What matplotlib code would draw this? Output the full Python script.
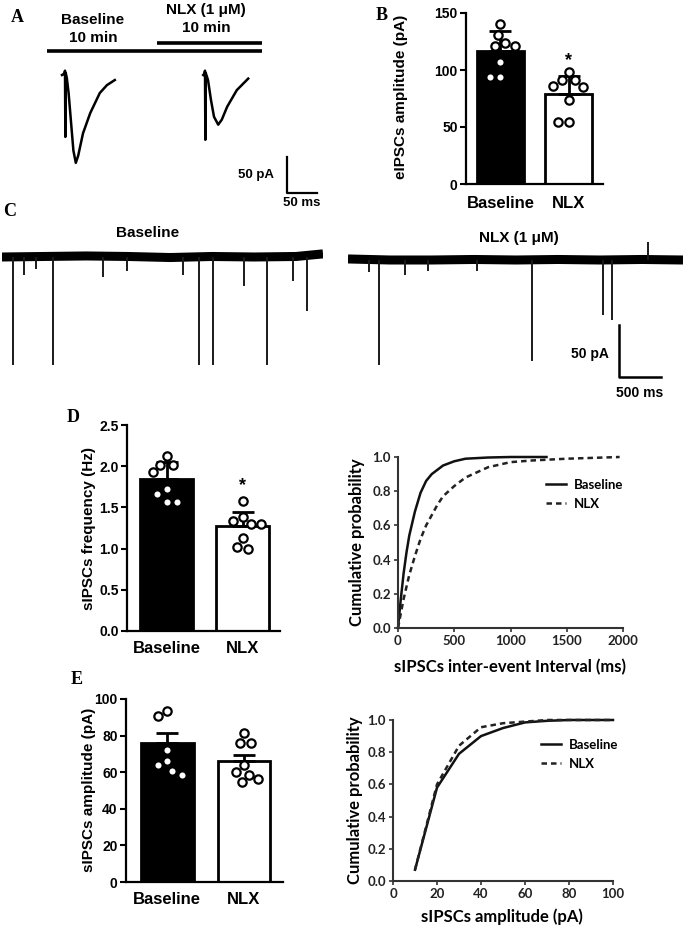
import matplotlib
matplotlib.use('Agg')
import matplotlib.pyplot as plt
import numpy as np

plt.rcParams['font.family'] = ['Liberation Sans', 'DejaVu Sans']
plt.rcParams['font.weight'] = 'bold'
plt.rcParams['axes.labelweight'] = 'bold'

# ---------------- data ----------------
groups = ['Baseline', 'NLX']

# B: eIPSC amplitude (pA)
eipsc_mean = [117, 79]
eipsc_err = [17, 16]
eipsc_baseline = [140, 131, 124, 121, 121, 107, 94, 94]
eipsc_nlx = [98, 91, 91, 86, 85, 74, 54, 54]

# D: sIPSC frequency (Hz)
freq_mean = [1.845, 1.27]
freq_err = [0.21, 0.18]
freq_baseline = [2.12, 2.02, 2.02, 1.93, 1.72, 1.66, 1.56, 1.56]
freq_nlx = [1.58, 1.38, 1.34, 1.30, 1.30, 1.13, 1.00, 1.02]

# E: sIPSC amplitude (pA)
amp_mean = [76, 66]
amp_err = [5.6, 3.6]
amp_baseline = [93.3, 90.9, 72.3, 66.0, 63.8, 60.8, 58.7]
amp_nlx = [81.4, 76.0, 76.0, 63.8, 60.3, 58.7, 56.3, 54.5]

# D: cumulative inter-event interval
iei_base_ms = [0, 25, 50, 75, 100, 150, 200, 250, 300, 400, 500, 600, 800, 1000, 1320]
iei_base_p = [0.0, 0.17, 0.32, 0.44, 0.54, 0.68, 0.79, 0.86, 0.90, 0.95, 0.975, 0.99, 0.997, 1.0, 1.0]
iei_nlx_ms = [0, 50, 100, 150, 200, 250, 300, 350, 400, 500, 600, 700, 800, 1000, 1200, 1500, 1970]
iei_nlx_p = [0.0, 0.17, 0.31, 0.42, 0.52, 0.60, 0.66, 0.72, 0.77, 0.83, 0.88, 0.91, 0.94, 0.97, 0.98, 0.99, 1.0]

# E: cumulative amplitude
amp_bins = [10, 20, 30, 40, 50, 60, 70, 80, 90, 100]
amp_cdf_base = [0.07, 0.58, 0.79, 0.90, 0.95, 0.985, 0.995, 1.0, 1.0, 1.0]
amp_cdf_nlx = [0.07, 0.60, 0.84, 0.955, 0.98, 0.99, 1.0, 1.0, 1.0, 1.0]

# A: evoked traces (ms from stimulus, pA from holding level)
evoked_base_t = [-5, -1, 0, 0.6, 1.2, 3, 6, 10, 14, 18, 22, 30, 42, 58, 70, 83]
evoked_base_i = [0, 2, 6, -86, 3, -4, -25, -65, -105, -122, -112, -81, -53, -25, -14, -7]
evoked_nlx_t = [-3, -1, 0, 0.6, 1.2, 5, 10, 15, 22, 28, 37, 53, 72]
evoked_nlx_i = [0, 2, 6, -90, 3, -7, -35, -58, -69, -62, -44, -21, -5]

# C: spontaneous events (time ms, amplitude pA)
spont_base_ms = [135, 262, 405, 611, 1206, 1484, 2159, 2349, 2516, 2881, 3151, 3468, 3635]
spont_base_pA = [104, 17, 12, 104, 19, 13, 17, 104, 104, 28, 104, 23, 52]
spont_nlx_ms = [250, 373, 679, 956, 1532, 2187, 3040, 3139, 3575]
spont_nlx_pA = [12, 101, 14, 11, 11, 97, 53, 58, -17]
drift_base_ms = [0, 500, 1000, 1500, 2000, 2500, 3000, 3500, 3820]
drift_base_pA = [0, 0.5, 1, 0.5, -0.5, 0.5, 0, 0.5, 3]
drift_nlx_ms = [0, 500, 1000, 1500, 2000, 2500, 3000, 3500, 3988]
drift_nlx_pA = [1, 0, 0, 0.5, 0, 0.5, 0, 0.5, 0]

# ---------------- layout helpers ----------------
W, H = 685, 927
fig = plt.figure(figsize=(W / 100, H / 100), dpi=100)


def add_ax(x0, y0, x1, y1, **kw):
    return fig.add_axes([x0 / W, 1 - y1 / H, (x1 - x0) / W, (y1 - y0) / H], **kw)


def ftext(x, y, s, **kw):
    kw.setdefault('ha', 'center')
    kw.setdefault('va', 'center')
    fig.text(x / W, 1 - y / H, s, **kw)


def panel_label(x, y, s):
    fig.text(x / W, 1 - y / H, s, family='Liberation Serif', weight='bold',
             fontsize=13, ha='left', va='center')


def swarm(ax, xc, vals, d):
    T = ax.transData
    inv = T.inverted()
    placed = []
    res = [None] * len(vals)
    order = sorted(range(len(vals)), key=lambda i: -vals[i])
    for i in order:
        px, py = T.transform((xc, vals[i]))
        forb = []
        for (qx, qy) in placed:
            dy = abs(qy - py)
            if dy < d:
                h = np.sqrt(d * d - dy * dy)
                forb.append((qx - h, qx + h))
        cands = [px] + [a for a, b in forb] + [b for a, b in forb]
        cands.sort(key=lambda c: abs(c - px))
        chosen = px
        for c in cands:
            if all(not (a + 1e-6 < c < b - 1e-6) for a, b in forb):
                chosen = c
                break
        placed.append((chosen, py))
        res[i] = inv.transform((chosen, py))[0]
    return res


def bar_panel(box, xlim, ylim, yticks, ytl, means, errs, pts_list, star=None, xpad=7):
    ax = add_ax(*box)
    ax.set_xlim(*xlim)
    ax.set_ylim(*ylim)
    xs = [0, 1]
    ax.bar(xs, means, width=0.69, color=['black', 'white'], edgecolor='black',
           linewidth=2, zorder=2)
    ax.errorbar(xs, means, yerr=[[0, 0], errs], fmt='none', ecolor='black',
                elinewidth=2, capsize=8, capthick=2, zorder=3)
    for xc, pts in zip(xs, pts_list):
        offs = swarm(ax, xc, pts, 10.5)
        ax.plot(offs, pts, 'o', ms=6, mfc='white', mec='black', mew=1.6,
                zorder=4, clip_on=False)
    if star is not None:
        ax.text(1, star, '*', ha='center', va='center', fontsize=13, weight='bold')
    for s in ['top', 'right']:
        ax.spines[s].set_visible(False)
    for s in ['left', 'bottom']:
        ax.spines[s].set_linewidth(1.6)
    ax.set_yticks(yticks)
    ax.set_yticklabels(ytl, fontsize=10, weight='bold')
    ax.set_xticks(xs)
    ax.set_xticklabels(groups, fontsize=12, weight='bold')
    ax.tick_params(axis='y', length=4, width=1.5, pad=2)
    ax.tick_params(axis='x', length=0, pad=xpad)
    return ax


CAL = ['Lato', 'DejaVu Sans']


def cum_panel(box, xlim, xticks, ylabel_xy, xlabel, xlabel_xy, xs_b, ys_b, xs_n, ys_n, leg_xy):
    ax = add_ax(*box)
    ax.set_xlim(*xlim)
    ax.set_ylim(0, 1.0)
    ax.plot(xs_b, ys_b, '-', color='#111111', lw=1.8, label='Baseline', clip_on=False)
    ax.plot(xs_n, ys_n, '--', color='#222222', lw=1.8, dashes=(2.2, 1.6), label='NLX',
            clip_on=False)
    for s in ['top', 'right']:
        ax.spines[s].set_visible(False)
    for s in ['left', 'bottom']:
        ax.spines[s].set_linewidth(1.5)
        ax.spines[s].set_color('#333333')
    ax.set_xticks(xticks)
    ax.set_yticks([0, 0.2, 0.4, 0.6, 0.8, 1.0])
    ax.set_yticklabels(['0.0', '0.2', '0.4', '0.6', '0.8', '1.0'])
    for t in ax.get_xticklabels() + ax.get_yticklabels():
        t.set_fontfamily(CAL)
        t.set_fontweight('bold')
        t.set_fontsize(9.5)
        t.set_color('#222222')
    ax.tick_params(length=3, width=1.2, color='#333333', pad=2)
    ftext(ylabel_xy[0], ylabel_xy[1], 'Cumulative probability', rotation=90,
          family=CAL, weight='bold', fontsize=12)
    ftext(xlabel_xy[0], xlabel_xy[1], xlabel, family=CAL, weight='bold', fontsize=12)
    ax.legend(loc='upper left', bbox_to_anchor=(leg_xy[0] / W, 1 - leg_xy[1] / H),
              bbox_transform=fig.transFigure, frameon=False, borderaxespad=0,
              borderpad=0, handlelength=1.5, handletextpad=0.6, labelspacing=0.5,
              prop={'family': CAL, 'weight': 'bold', 'size': 9.5})
    return ax


# ---------------- Panel A ----------------
axA = add_ax(0, 0, 330, 200)
axA.set_xlim(0, 330 / 0.6)
axA.set_ylim(-200 / 0.72, 0)
axA.axis('off')
base_origin = (65 / 0.6, -75 / 0.72)
nlx_origin = (205 / 0.6, -75 / 0.72)
axA.plot(np.array(evoked_base_t) + base_origin[0], np.array(evoked_base_i) + base_origin[1],
         color='black', lw=1.8)
axA.plot(np.array(evoked_nlx_t) + nlx_origin[0], np.array(evoked_nlx_i) + nlx_origin[1],
         color='black', lw=1.8)
sb = (287 / 0.6, -193 / 0.72)
axA.plot([sb[0], sb[0], sb[0] + 50], [sb[1] + 50, sb[1], sb[1]], color='black', lw=1.6,
         clip_on=False)

ovl = fig.add_axes([0, 0, 1, 1])
ovl.set_xlim(0, W)
ovl.set_ylim(H, 0)
ovl.axis('off')
ovl.plot([157, 262], [43, 43], color='black', lw=2.6, solid_capstyle='butt')
ovl.plot([47, 262], [51, 51], color='black', lw=2.6, solid_capstyle='butt')

ftext(93, 20, 'Baseline', fontsize=11, weight='bold')
ftext(93, 38, '10 min', fontsize=11, weight='bold')
ftext(206, 10, 'NLX (1 μM)', fontsize=11, weight='bold')
ftext(206, 28, '10 min', fontsize=11, weight='bold')
ftext(256, 175, '50 pA', fontsize=9.5, weight='bold')
ftext(302, 203, '50 ms', fontsize=9.5, weight='bold')

# ---------------- Panel B ----------------
axB = bar_panel((466, 13, 603, 184), (-0.507, 1.507), (0, 150), [0, 50, 100, 150],
                ['0', '50', '100', '150'], eipsc_mean, eipsc_err,
                [eipsc_baseline, eipsc_nlx], star=108, xpad=9)
ftext(401, 97, 'eIPSCs amplitude (pA)', rotation=90, fontsize=11, weight='bold')

# ---------------- Panel C ----------------
axC1 = add_ax(2, 240, 323, 380)
axC1.set_xlim(0, 3820)
axC1.set_ylim(-123 / 1.04, 17 / 1.04)
axC1.axis('off')
axC1.plot(drift_base_ms, drift_base_pA, color='black', lw=6.5, solid_capstyle='butt')
axC1.vlines(spont_base_ms, 0, -np.array(spont_base_pA), color='#1a1a1a', lw=1.4)

axC2 = add_ax(348, 240, 683, 380)
axC2.set_xlim(0, 3988)
axC2.set_ylim(-120 / 1.04, 20 / 1.04)
axC2.axis('off')
axC2.plot(drift_nlx_ms, drift_nlx_pA, color='black', lw=6.5, solid_capstyle='butt')
axC2.vlines(spont_nlx_ms, 0, -np.array(spont_nlx_pA), color='#1a1a1a', lw=1.4)
sbx, sby = (619 - 348) / 0.084, -(377 - 260) / 1.04
axC2.plot([sbx, sbx, sbx + 500], [sby + 50, sby, sby], color='black', lw=1.8, clip_on=False)

ftext(148, 233, 'Baseline', fontsize=11, weight='bold')
ftext(519, 238, 'NLX (1 μM)', fontsize=11, weight='bold')
ftext(590, 354, '50 pA', fontsize=10, weight='bold')
ftext(640, 393, '500 ms', fontsize=10, weight='bold')

# ---------------- Panel D ----------------
axD = bar_panel((127, 425, 280, 631), (-0.52, 1.49), (0, 2.5), [0, 0.5, 1.0, 1.5, 2.0, 2.5],
                ['0.0', '0.5', '1.0', '1.5', '2.0', '2.5'], freq_mean, freq_err,
                [freq_baseline, freq_nlx], star=1.76)
ftext(89, 528, 'sIPSCs frequency (Hz)', rotation=90, fontsize=11, weight='bold')

cum_panel((398, 457, 623, 628), (0, 2000), [0, 500, 1000, 1500, 2000], (357, 542),
          'sIPSCs inter-event Interval (ms)', (510, 667),
          iei_base_ms, iei_base_p, iei_nlx_ms, iei_nlx_p, (546, 479))

# ---------------- Panel E ----------------
axE = bar_panel((126, 699, 283, 882), (-0.54, 1.51), (0, 100), [0, 20, 40, 60, 80, 100],
                ['0', '20', '40', '60', '80', '100'], amp_mean, amp_err,
                [amp_baseline, amp_nlx])
ftext(89, 790, 'sIPSCs amplitude (pA)', rotation=90, fontsize=11, weight='bold')

cum_panel((393, 720, 613, 881), (0, 100), [0, 20, 40, 60, 80, 100], (355, 800),
          'sIPSCs amplitude (pA)', (502, 917),
          amp_bins, amp_cdf_base, amp_bins, amp_cdf_nlx, (541, 739))

# panel labels
panel_label(11, 17, 'A')
panel_label(376, 15, 'B')
panel_label(3, 212, 'C')
panel_label(67, 418, 'D')
panel_label(71, 679, 'E')

fig.savefig('out.png', dpi=100)
